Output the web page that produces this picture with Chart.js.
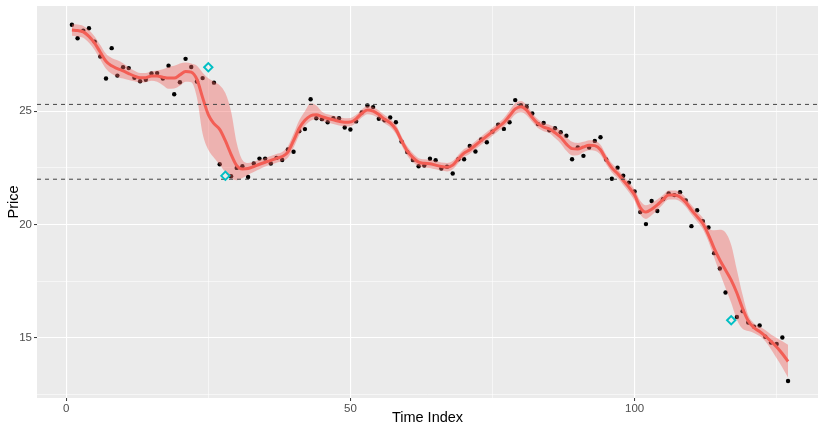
<!DOCTYPE html>
<html><head><meta charset="utf-8">
<script src="https://cdn.jsdelivr.net/npm/chart.js@4"></script>
<style>html,body{margin:0;padding:0;background:#fff;overflow:hidden;}</style>
</head><body>
<canvas id="c" width="820" height="425" style="width:820px;height:425px;display:block"></canvas>
<script>
// ---- data ----
// observed prices at time index 1..127 (null where the observation is drawn as a highlighted outlier)
const price = [
 28.81,28.22,28.55,28.66,28.07,27.41,26.44,27.78,26.57,26.94,
 26.90,26.47,26.32,26.39,26.66,26.68,26.44,27.01,25.75,26.28,
 27.31,26.95,26.31,26.46,null,26.26,22.66,null,22.13,22.50,
 22.57,22.10,22.69,22.91,22.91,22.69,22.94,22.85,23.31,23.21,
 24.12,24.21,25.53,24.69,24.65,24.51,24.69,24.69,24.28,24.19,
 24.55,24.94,25.25,25.18,24.67,24.60,24.72,24.51,23.66,23.20,
 22.85,22.57,22.60,22.90,22.84,22.47,22.55,22.25,22.88,22.88,
 23.47,23.22,23.75,23.63,24.10,24.40,24.22,24.51,25.49,25.26,
 25.19,24.90,24.43,24.48,24.16,24.25,24.07,23.92,22.88,23.40,
 23.03,23.40,23.69,23.85,22.87,22.02,22.51,22.15,21.85,21.46,
 20.55,20.02,21.04,20.60,21.12,21.37,21.30,21.43,21.06,19.93,
 20.63,20.15,19.87,18.74,18.06,17.00,null,15.92,16.18,15.68,
 15.50,15.55,15.05,14.80,14.73,15.02,13.10
];
const outlierX = [25, 28, 117];
const outlierY = [26.94, 22.15, 15.78];

// smoothed fit and its confidence band at time index 1..127
const smoothMid = [
 28.58,28.56,28.50,28.30,28.00,27.60,27.20,27.00,26.88,26.78,
 26.66,26.55,26.47,26.48,26.55,26.55,26.50,26.46,26.46,26.60,
 26.75,26.72,26.40,25.60,24.85,24.45,24.20,23.70,23.10,22.60,
 22.45,22.47,22.56,22.66,22.75,22.83,22.92,23.00,23.20,23.70,
 24.25,24.60,24.80,24.84,24.76,24.68,24.62,24.55,24.51,24.52,
 24.66,24.90,25.05,25.00,24.85,24.65,24.48,24.20,23.70,23.25,
 22.95,22.75,22.70,22.68,22.62,22.56,22.53,22.62,22.90,23.15,
 23.30,23.50,23.70,23.90,24.10,24.30,24.50,24.80,25.10,25.20,
 25.05,24.72,24.45,24.30,24.22,24.05,23.85,23.55,23.35,23.33,
 23.42,23.50,23.48,23.30,22.87,22.50,22.25,21.95,21.65,21.30,
 20.75,20.55,20.68,20.87,21.10,21.30,21.30,21.22,20.98,20.65,
 20.35,20.05,19.55,18.95,18.44,18.00,17.55,16.98,16.30,15.75,
 15.45,15.28,15.08,14.85,14.60,14.30,13.96
];
const smoothHi = [
 28.83,28.82,28.76,28.58,28.30,27.92,27.53,27.35,27.25,27.12,
 26.94,26.78,26.68,26.68,26.76,26.80,26.85,26.95,27.00,27.10,
 27.15,27.10,27.00,26.70,26.45,26.30,26.15,25.80,25.00,23.60,
 22.85,22.72,22.78,22.86,22.94,23.02,23.11,23.20,23.45,24.00,
 24.60,25.00,25.35,25.25,24.98,24.86,24.80,24.73,24.69,24.70,
 24.84,25.08,25.23,25.18,25.03,24.83,24.66,24.40,23.90,23.45,
 23.14,22.93,22.88,22.86,22.80,22.74,22.72,22.80,23.08,23.33,
 23.48,23.68,23.88,24.08,24.28,24.48,24.70,25.03,25.35,25.45,
 25.28,24.92,24.64,24.48,24.40,24.28,24.12,23.85,23.65,23.60,
 23.65,23.72,23.70,23.52,23.08,22.70,22.45,22.15,21.87,21.55,
 21.05,20.85,20.95,21.10,21.30,21.50,21.50,21.42,21.18,20.86,
 20.57,20.30,19.85,19.75,19.77,19.65,19.10,18.00,16.90,16.00,
 15.65,15.50,15.35,15.15,15.00,14.85,14.70
];
const smoothLo = [
 28.33,28.30,28.24,28.02,27.70,27.28,26.87,26.65,26.51,26.44,
 26.38,26.32,26.26,26.28,26.34,26.30,26.15,25.99,26.00,26.12,
 26.30,26.28,25.60,24.00,23.30,22.95,22.65,22.30,22.05,21.95,
 22.05,22.20,22.32,22.44,22.56,22.64,22.73,22.80,22.95,23.40,
 23.95,24.35,24.58,24.64,24.58,24.50,24.44,24.37,24.33,24.34,
 24.48,24.72,24.87,24.82,24.67,24.47,24.30,24.00,23.50,23.05,
 22.76,22.57,22.52,22.50,22.44,22.38,22.34,22.44,22.72,22.97,
 23.12,23.32,23.52,23.72,23.92,24.12,24.30,24.57,24.85,24.95,
 24.82,24.52,24.26,24.12,24.04,23.82,23.58,23.25,23.05,23.06,
 23.19,23.28,23.26,23.08,22.66,22.30,22.05,21.75,21.43,21.05,
 20.45,20.25,20.41,20.64,20.90,21.10,21.10,21.02,20.78,20.44,
 20.13,19.80,19.25,18.55,17.86,17.20,16.55,15.80,15.40,15.30,
 15.22,15.08,14.85,14.50,14.10,13.70,13.25
];

const refLines = [25.3, 22.0];
const xTicks = [0, 25, 50, 75, 100, 125];
const xLabels = [0, 50, 100];
const yTicks = [12.5, 15, 17.5, 20, 22.5, 25, 27.5];
const yLabels = [15, 20, 25];
const xRange = [-5.14, 132.27];
const yRange = [12.35, 29.64];

// ---- build chart ----
const FONT = "'Liberation Sans', Arial, Helvetica, sans-serif";
const pts = [];
price.forEach((v, i) => { if (v !== null) pts.push({x: i + 1, y: v}); });
const toXY = arr => arr.map((v, i) => ({x: i + 1, y: v}));

const bgPlugin = {
  id: 'bg',
  beforeDraw(chart) {
    const {ctx, chartArea: a} = chart;
    ctx.save();
    ctx.fillStyle = '#FFFFFF';
    ctx.fillRect(0, 0, chart.width, chart.height);
    ctx.fillStyle = '#EBEBEB';
    ctx.fillRect(a.left, a.top, a.right - a.left, a.bottom - a.top);
    ctx.restore();
  }
};

const datasets = [
  { label: 'points', data: pts, showLine: false, pointRadius: 2.2, pointBackgroundColor: '#000',
    pointBorderWidth: 0, borderColor: '#000', order: 6 },
  { label: 'hi', data: toXY(smoothHi), borderWidth: 0, pointRadius: 0, fill: '+1',
    backgroundColor: 'rgba(240,100,95,0.42)', cubicInterpolationMode: 'monotone', order: 5 },
  { label: 'lo', data: toXY(smoothLo), borderWidth: 0, pointRadius: 0, fill: false,
    cubicInterpolationMode: 'monotone', order: 5 },
  { label: 'fit', data: toXY(smoothMid), borderColor: '#F35E55', borderWidth: 3, pointRadius: 0,
    fill: false, cubicInterpolationMode: 'monotone', order: 4 },
];
refLines.forEach(v => datasets.push({
  label: 'ref' + v, data: [{x: xRange[0], y: v}, {x: xRange[1], y: v}], borderColor: '#444',
  borderWidth: 1, borderDash: [4, 4], pointRadius: 0, fill: false, order: 3
}));
datasets.push({
  label: 'outliers', data: outlierX.map((x, i) => ({x, y: outlierY[i]})), showLine: false,
  pointStyle: 'rectRot', pointRadius: 4.2, pointBorderWidth: 1.9, pointBorderColor: '#00BFC4',
  pointBackgroundColor: 'rgba(0,0,0,0)', order: 1
});

new Chart(document.getElementById('c'), {
  type: 'line',
  data: { datasets },
  plugins: [bgPlugin],
  options: {
    responsive: false, animation: false, devicePixelRatio: 1, events: [],
    layout: { autoPadding: false, padding: { top: 6, right: 2, left: 0, bottom: 0 } },
    plugins: { legend: { display: false }, tooltip: { enabled: false } },
    scales: {
      x: {
        type: 'linear', min: xRange[0], max: xRange[1],
        afterBuildTicks: s => { s.ticks = xTicks.map(v => ({value: v})); },
        afterFit: s => { s.height = 27; s.paddingLeft = 0; s.paddingRight = 0; },
        ticks: { autoSkip: false, maxRotation: 0, padding: 1, color: '#4D4D4D',
          font: { family: FONT, size: 11.5 },
          callback: v => xLabels.includes(v) ? String(v) : '' },
        grid: { color: '#FFFFFF', lineWidth: c => xLabels.includes(c.tick && c.tick.value) ? 1.1 : 0.55,
          drawTicks: true, tickLength: 3, tickWidth: 1,
          tickColor: c => xLabels.includes(c.tick && c.tick.value) ? '#333333' : 'rgba(0,0,0,0)' },
        border: { display: false },
        title: { display: true, text: 'Time Index', color: '#000',
          font: { family: FONT, size: 14.5, lineHeight: 1 },
          padding: { top: 0, bottom: 0 } }
      },
      y: {
        type: 'linear', min: yRange[0], max: yRange[1],
        afterBuildTicks: s => { s.ticks = yTicks.map(v => ({value: v})); },
        afterFit: s => { s.width = 37; s.paddingTop = 0; s.paddingBottom = 0; },
        ticks: { autoSkip: false, padding: 2, color: '#4D4D4D', font: { family: FONT, size: 11.5 },
          callback: v => yLabels.includes(v) ? String(v) : '' },
        grid: { color: '#FFFFFF', lineWidth: c => yLabels.includes(c.tick && c.tick.value) ? 1.1 : 0.55,
          drawTicks: true, tickLength: 3, tickWidth: 1,
          tickColor: c => yLabels.includes(c.tick && c.tick.value) ? '#333333' : 'rgba(0,0,0,0)' },
        border: { display: false },
        title: { display: true, text: 'Price', color: '#000',
          font: { family: FONT, size: 14.5, lineHeight: 1 },
          padding: { top: 7, bottom: 0 } }
      }
    }
  }
});
</script>
</body></html>
